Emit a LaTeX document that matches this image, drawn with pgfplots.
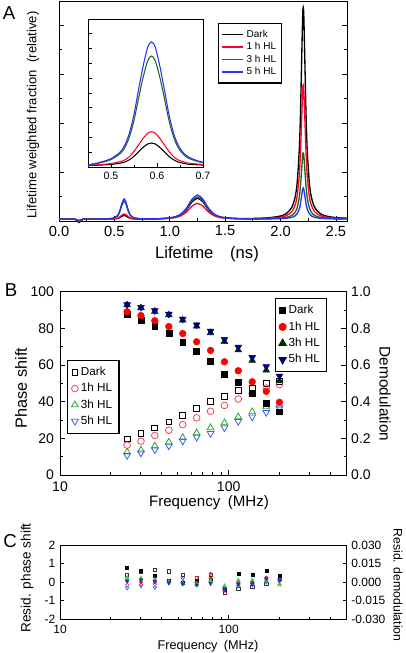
\documentclass[border=0pt]{standalone}
\usepackage{pgfplots}
\pgfplotsset{compat=1.18}
\usepackage{pgfplotstable}
\usepackage{fontspec}
\setmainfont{Liberation Sans}
\usetikzlibrary{plotmarks}

\definecolor{cred}{RGB}{255,0,40}
\definecolor{cgreen}{RGB}{25,105,25}
\definecolor{cblue}{RGB}{45,45,255}
\definecolor{ored}{RGB}{255,60,90}
\definecolor{ogreen}{RGB}{40,170,40}
\definecolor{oblue}{RGB}{60,90,255}
\definecolor{fgreen}{RGB}{0,45,0}
\definecolor{fblue}{RGB}{0,0,130}
\definecolor{rgreen}{RGB}{60,200,60}
\definecolor{rblue}{RGB}{30,50,210}

\pgfplotstableread{
x      dark   hA     hB     hC
0.00   0.08   0.08   0.08   0.08
0.10   0.08   0.08   0.08   0.08
0.14   0.08   0.08   0.08   0.08
0.16   0.02   0.04   0.05   0.06
0.18  -0.06  -0.03   0.00   0.03
0.20   0.02   0.04   0.05   0.06
0.22   0.08   0.08   0.08   0.08
0.30   0.08   0.08   0.08   0.08
0.40   0.081  0.081  0.085  0.086
0.45   0.083  0.084  0.092  0.094
0.50   0.090  0.094  0.128  0.134
0.53   0.107  0.118  0.211  0.228
0.55   0.146  0.172  0.401  0.441
0.57   0.202  0.250  0.671  0.744
0.588  0.230  0.290  0.810  0.900
0.605  0.205  0.254  0.686  0.761
0.625  0.148  0.175  0.409  0.449
0.645  0.109  0.120  0.219  0.236
0.67   0.092  0.096  0.136  0.143
0.70   0.086  0.088  0.109  0.113
0.75   0.082  0.083  0.089  0.090
0.80   0.084  0.084  0.088  0.089
0.90   0.093  0.090  0.094  0.095
1.00   0.123  0.112  0.125  0.129
1.05   0.165  0.144  0.170  0.178
1.10   0.259  0.214  0.269  0.286
1.15   0.463  0.368  0.485  0.521
1.20   0.777  0.605  0.818  0.884
1.25   0.930  0.720  0.980  1.060
1.30   0.780  0.607  0.819  0.885
1.35   0.467  0.371  0.487  0.522
1.40   0.265  0.218  0.271  0.287
1.45   0.172  0.148  0.172  0.179
1.50   0.134  0.119  0.128  0.131
1.60   0.108  0.099  0.098  0.097
1.70   0.104  0.096  0.090  0.087
1.80   0.113  0.101  0.090  0.085
1.90   0.138  0.117  0.098  0.089
2.00   0.207  0.160  0.120  0.099
2.05   0.299  0.218  0.148  0.112
2.10   0.543  0.373  0.225  0.148
2.13   0.944  0.627  0.350  0.207
2.15   1.557  1.015  0.542  0.297
2.17   3.000  1.929  0.993  0.509
2.18   4.400  2.815  1.430  0.715
2.19   6.430  4.100  2.065  1.013
2.20   8.390  5.342  2.677  1.302
2.205  8.720  5.550  2.780  1.350
2.21   8.390  5.342  2.677  1.302
2.22   6.430  4.100  2.065  1.013
2.23   4.400  2.815  1.430  0.715
2.24   3.000  1.929  0.993  0.509
2.26   1.557  1.015  0.542  0.297
2.28   0.944  0.627  0.350  0.207
2.31   0.543  0.373  0.225  0.148
2.36   0.299  0.218  0.148  0.112
2.41   0.207  0.160  0.120  0.099
2.50   0.141  0.119  0.099  0.089
2.60   0.115  0.102  0.091  0.085
}\lifetimes

\pgfplotstableread{
x      dark   hA     hB     hC
0.45   0.010  0.012  0.013  0.014
0.47   0.012  0.015  0.024  0.027
0.49   0.015  0.020  0.039  0.044
0.50   0.017  0.023  0.050  0.056
0.52   0.026  0.036  0.090  0.101
0.53   0.034  0.048  0.131  0.148
0.54   0.049  0.070  0.203  0.228
0.55   0.072  0.105  0.315  0.355
0.56   0.103  0.150  0.465  0.524
0.57   0.133  0.194  0.608  0.684
0.58   0.156  0.229  0.720  0.811
0.588  0.162  0.238  0.750  0.845
0.596  0.156  0.229  0.720  0.811
0.606  0.133  0.194  0.608  0.684
0.616  0.103  0.150  0.465  0.524
0.626  0.072  0.105  0.315  0.355
0.636  0.049  0.070  0.203  0.228
0.646  0.034  0.048  0.131  0.148
0.656  0.026  0.036  0.090  0.101
0.668  0.019  0.026  0.060  0.068
0.688  0.015  0.020  0.038  0.042
0.70   0.013  0.017  0.029  0.032
}\inset

% phase shift (open) and demodulation (filled)
\pgfplotstableread{
f     pD    pA    pB    pC    mD     mA     mB     mC
25    19.7  16.3  12.5  10.7  0.877  0.891  0.928  0.930
30.2  22.6  18.5  13.6  12.1  0.846  0.870  0.912  0.915
36.5  25.7  21.6  15.8  13.8  0.813  0.842  0.893  0.897
44.2  29.0  24.5  17.9  15.9  0.773  0.810  0.873  0.878
53.4  32.6  27.5  20.5  18.6  0.726  0.772  0.845  0.851
64.6  36.2  31.2  23.0  20.7  0.676  0.727  0.812  0.820
78.1  40.2  34.8  25.8  22.7  0.620  0.680  0.776  0.786
94.4  42.9  38.0  28.5  25.8  0.551  0.618  0.728  0.741
114   46.0  41.5  31.7  29.3  0.505  0.569  0.682  0.698
138   47.5  44.5  34.5  31.7  0.448  0.509  0.625  0.642
167   49.8  47.5  37.2  34.2  0.393  0.457  0.572  0.592
200   51.0  49.3  38.0  36.6  0.345  0.397  0.513  0.540
}\freq

% residuals: phase (open, degrees) and demodulation (filled)
\pgfplotstableread{
f     pD     pA     pB     pC     mD       mA       mB       mC
25    0.40  -0.15   0.20  -0.32   0.0116   0.0008   0.0038   0.0008
30.2  0.55  -0.15   0.15  -0.20   0.0093   0.0000   0.0033   0.0018
36.5  0.66  -0.10   0.10  -0.30   0.0053   0.0000   0.0023   0.0008
44.2  0.58   0.00   0.03  -0.05   0.0012   0.0003   0.0008  -0.0005
53.4  0.41   0.00   0.00   0.18  -0.0008  -0.0012  -0.0008  -0.0015
64.6  0.25   0.22  -0.15  -0.05   0.0012  -0.0003  -0.0015  -0.0023
78.1  0.38   0.45   0.05   0.00   0.0023   0.0030   0.0012  -0.0012
94.4 -0.55  -0.45  -0.20  -0.40  -0.0060  -0.0068  -0.0038  -0.0053
114  -0.35  -0.05  -0.15  -0.20   0.0068   0.0008   0.0015  -0.0015
138  -0.25  -0.05   0.05  -0.15   0.0063   0.0000   0.0018  -0.0015
167  -0.08   0.20   0.05   0.00   0.0090   0.0038   0.0023   0.0027
200   0.20   0.05  -0.15   0.15   0.0053   0.0015  -0.0015   0.0015
}\resid

\pgfplotsset{
  every axis/.append style={
    scale only axis,
    tick align=inside,
    axis line style={line width=0.7pt},
    every tick/.style={black, line width=0.6pt},
    major tick length=4pt,
    minor tick length=2.2pt,
    /pgf/number format/assume math mode=true,
  },
}

\begin{document}
\begin{tikzpicture}
\useasboundingbox (0,0) rectangle (304.5pt,-489.75pt);

% ================= Panel A =================
\begin{axis}[
  at={(44.25pt,-1.3pt)}, anchor=north west,
  width=216pt, height=164.5pt,
  xmin=0, xmax=2.6, ymin=0, ymax=8.95,
  clip=false,
  xtick={0,0.5,...,2.5}, minor x tick num=1,
  xtick pos=bottom,
  ytick={0,2,...,8}, minor y tick num=1, yticklabels={},
  ytick pos=both,
  xticklabel style={font=\fontsize{11}{12}\selectfont},
  xticklabel={\pgfmathprintnumber[fixed, fixed zerofill, precision=1]{\tick}},
  legend style={at={(axis description cs:0.552,0.905)}, anchor=north west,
    draw=black, line width=1pt, font=\fontsize{7.5}{8}\selectfont,
    row sep=-1.6pt, inner xsep=2pt, inner ysep=3pt},
  legend cell align=left,
  legend image code/.code={\draw[#1] (0pt,0pt) -- (16pt,0pt);},
]
\addplot[black, line width=1pt, smooth] table[x=x, y=dark] {\lifetimes};
\addlegendentry{Dark}
\addplot[cred, line width=1pt, smooth] table[x=x, y=hA] {\lifetimes};
\addlegendentry{1 h HL}
\addplot[cgreen, line width=1pt, smooth] table[x=x, y=hB] {\lifetimes};
\addlegendentry{3 h HL}
\addplot[cblue, line width=1pt, smooth] table[x=x, y=hC] {\lifetimes};
\addlegendentry{5 h HL}
\end{axis}

% inset
\begin{axis}[
  at={(66pt,-14.25pt)}, anchor=north west,
  width=86.25pt, height=111pt,
  axis background/.style={fill=white},
  xmin=0.45, xmax=0.7, ymin=0, ymax=1,
  xtick={0.5,0.6,0.7}, minor x tick num=1, xtick pos=bottom,
  ytick={0,0.1,...,1}, yticklabels={}, ytick pos=left,
  major tick length=3pt, minor tick length=1.7pt,
  xticklabel style={font=\fontsize{8}{9}\selectfont},
  xticklabel={\pgfmathprintnumber[fixed, fixed zerofill, precision=1]{\tick}},
]
\addplot[black, line width=0.8pt, smooth] table[x=x, y=dark] {\inset};
\addplot[cred, line width=0.8pt, smooth] table[x=x, y=hA] {\inset};
\addplot[cgreen, line width=0.8pt, smooth] table[x=x, y=hB] {\inset};
\addplot[cblue, line width=0.8pt, smooth] table[x=x, y=hC] {\inset};
\end{axis}

% ================= Panel B =================
\begin{axis}[
  at={(45pt,-218.8pt)}, anchor=north west,
  width=214.9pt, height=137.5pt,
  xmode=log, xmin=10, xmax=500,
  xtick={10,100}, xticklabels={10,100},
  minor xtick={20,30,40,50,60,70,80,90,200,300,400},
  xtick pos=bottom,
  ymin=0, ymax=100, ytick={0,20,...,100}, minor y tick num=1,
  ytick pos=left,
  ticklabel style={font=\fontsize{10.5}{12}\selectfont},
  xticklabel style={yshift=-1.5pt},
  yticklabel style={xshift=-1pt},
  legend style={at={(axis description cs:0.024,0.63)}, anchor=north west,
    draw=black, line width=1pt, font=\fontsize{8.8}{9}\selectfont,
    row sep=0.4pt, inner xsep=3pt, inner ysep=3pt},
  legend cell align=left,
]
\addplot[only marks, mark=square, mark size=2.2pt, mark options={black, line width=0.6pt}] table[x=f, y=pD] {\freq};
\addlegendentry{Dark}
\addplot[only marks, mark=o, mark size=2.5pt, mark options={ored, line width=0.6pt}] table[x=f, y=pA] {\freq};
\addlegendentry{1h HL}
\addplot[only marks, mark=triangle, mark size=2.9pt, mark options={ogreen, line width=0.6pt}] table[x=f, y=pB] {\freq};
\addlegendentry{3h HL}
\addplot[only marks, mark=triangle, mark size=2.9pt, mark options={oblue, line width=0.6pt, rotate=180}] table[x=f, y=pC] {\freq};
\addlegendentry{5h HL}
\end{axis}
\begin{axis}[
  at={(45pt,-218.8pt)}, anchor=north west,
  width=214.9pt, height=137.5pt,
  xmode=log, xmin=10, xmax=500,
  axis x line=none, axis y line*=right,
  ymin=0, ymax=1, ytick={0,0.2,...,1.0}, minor y tick num=1,
  ytick pos=right,
  yticklabel style={font=\fontsize{10.5}{12}\selectfont},
  yticklabel={\pgfmathprintnumber[fixed, fixed zerofill, precision=1]{\tick}},
  legend style={at={(axis description cs:0.749,0.966)}, anchor=north west,
    draw=black, line width=1pt, font=\fontsize{8.8}{9}\selectfont,
    row sep=0.4pt, inner xsep=3pt, inner ysep=3pt},
  legend cell align=left,
]
\addplot[only marks, mark=square*, mark size=2.2pt, mark options={black}] table[x=f, y=mD] {\freq};
\addlegendentry{Dark}
\addplot[only marks, mark=*, mark size=2.5pt, mark options={red, draw=red}] table[x=f, y=mA] {\freq};
\addlegendentry{1h HL}
\addplot[only marks, mark=triangle*, mark size=2.9pt, mark options={fgreen, draw=fgreen}] table[x=f, y=mB] {\freq};
\addlegendentry{3h HL}
\addplot[only marks, mark=triangle*, mark size=2.9pt, mark options={fblue, draw=fblue, rotate=180}] table[x=f, y=mC] {\freq};
\addlegendentry{5h HL}
\end{axis}

% ================= Panel C =================
\begin{axis}[
  at={(45pt,-408.75pt)}, anchor=north west,
  width=215pt, height=55.7pt,
  xmode=log, xmin=10, xmax=500,
  xtick={10,100}, xticklabels={10,100},
  minor xtick={20,30,40,50,60,70,80,90,200,300,400},
  xtick pos=bottom,
  ymin=-2, ymax=2, ytick={-2,-1,0,1,2}, ytick pos=left,
  major tick length=3pt, minor tick length=1.7pt,
  ticklabel style={font=\fontsize{9}{10}\selectfont},
  xticklabel style={yshift=-1pt},
]
\addplot[only marks, mark=square, mark size=1.2pt, mark options={black!80, line width=0.5pt}] table[x=f, y=pD] {\resid};
\addplot[only marks, mark=o, mark size=1.3pt, mark options={ored, line width=0.5pt}] table[x=f, y=pA] {\resid};
\addplot[only marks, mark=triangle, mark size=1.5pt, mark options={rgreen, line width=0.5pt}] table[x=f, y=pB] {\resid};
\addplot[only marks, mark=triangle, mark size=1.5pt, mark options={oblue, line width=0.5pt, rotate=180}] table[x=f, y=pC] {\resid};
\end{axis}
\begin{axis}[
  at={(45pt,-408.75pt)}, anchor=north west,
  width=215pt, height=55.7pt,
  xmode=log, xmin=10, xmax=500,
  axis x line=none, axis y line*=right,
  ymin=-0.03, ymax=0.03, ytick={-0.03,-0.015,0,0.015,0.03}, ytick pos=right,
  scaled y ticks=false,
  major tick length=3pt,
  yticklabel style={font=\fontsize{9}{10}\selectfont},
  yticklabel={\pgfmathprintnumber[fixed, fixed zerofill, precision=3]{\tick}},
]
\addplot[only marks, mark=square*, mark size=1.1pt, mark options={black}] table[x=f, y=mD] {\resid};
\addplot[only marks, mark=*, mark size=1.2pt, mark options={red, draw=red}] table[x=f, y=mA] {\resid};
\addplot[only marks, mark=triangle*, mark size=1.5pt, mark options={rgreen, draw=rgreen}] table[x=f, y=mB] {\resid};
\addplot[only marks, mark=triangle*, mark size=1.5pt, mark options={rblue, draw=rblue, rotate=180}] table[x=f, y=mC] {\resid};
\end{axis}

% ================= text labels =================
\begin{scope}[x=0.75pt, y=-0.75pt]
\node[font=\fontsize{14}{14}\selectfont] at (9,13.5) {A};
\node[font=\fontsize{9.8}{10}\selectfont, rotate=90] at (33,115) {Lifetime weighted fraction\hspace{0.6em}(relative)};
\node[font=\fontsize{12.5}{13}\selectfont] at (207,254) {Lifetime\hspace{1em}(ns)};

\node[font=\fontsize{14}{14}\selectfont] at (11,290.5) {B};
\node[font=\fontsize{12.2}{13}\selectfont, rotate=90] at (21,388) {Phase shift};
\node[font=\fontsize{11.5}{12}\selectfont, rotate=-90] at (385,394) {Demodulation};
\node[font=\fontsize{11.3}{12}\selectfont] at (209,503) {Frequency\hspace{0.5em}(MHz)};

\node[font=\fontsize{14}{14}\selectfont] at (10,541.5) {C};
\node[font=\fontsize{10.2}{11}\selectfont, rotate=90] at (27,578) {Resid. phase shift};
\node[font=\fontsize{9.2}{10}\selectfont, rotate=-90] at (398,585) {Resid. demodulation};
\node[font=\fontsize{9.5}{10}\selectfont] at (208,646) {Frequency\hspace{0.5em}(MHz)};
\end{scope}
\end{tikzpicture}
\end{document}
